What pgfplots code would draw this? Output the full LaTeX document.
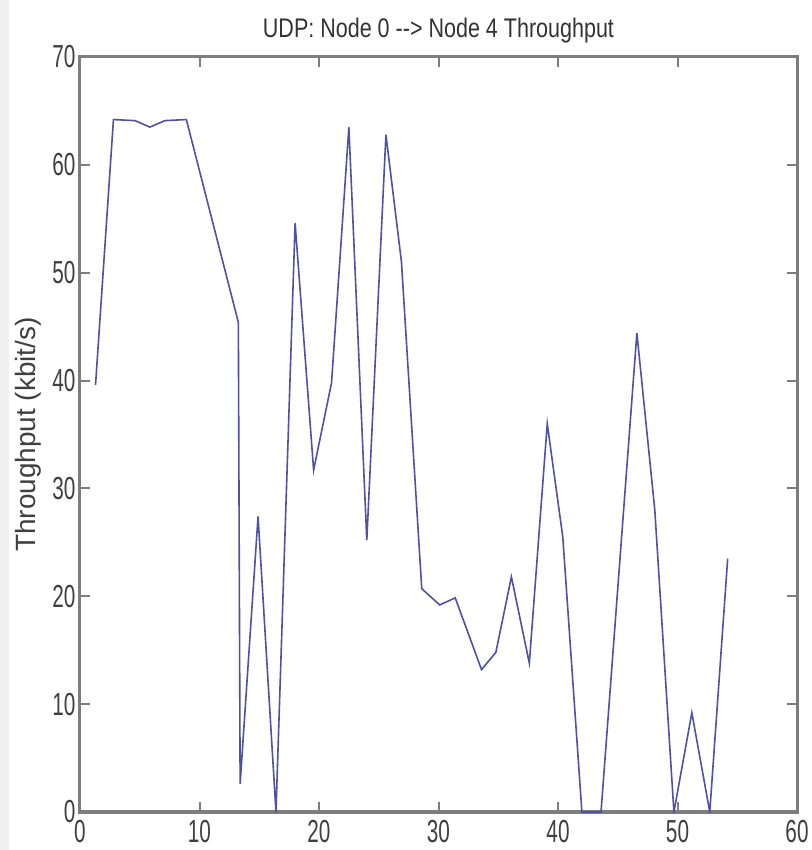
\documentclass[border=0pt]{standalone}
\usepackage{fontspec}
\setmainfont{Liberation Sans}[FakeStretch=0.65]
\newfontfamily\titlefont{Liberation Sans}[FakeStretch=0.8]
\newfontfamily\labelfont{Liberation Sans}
\usepackage{pgfplots}
\pgfplotsset{compat=1.18}
\definecolor{linecol}{RGB}{80,80,165}
\definecolor{axcol}{RGB}{125,125,125}
\begin{document}
\begin{tikzpicture}
\fill[white] (-80bp,-38bp) rectangle (730bp,812bp);
\fill[black!6] (-80bp,-38bp) rectangle (-71bp,812bp);
\begin{axis}[
  at={(0,0)}, anchor=south west,
  scale only axis,
  width=717bp, height=755bp,
  xmin=0, xmax=60, ymin=0, ymax=70,
  xtick={0,10,...,60}, ytick={0,10,...,70},
  tick align=inside,
  major tick length=10bp,
  axis line style={axcol, line width=3bp},
  tick style={axcol, line width=2bp},
  every tick label/.append style={font=\fontsize{32}{32}\selectfont, text=black!75},
  /pgf/number format/assume math mode=true,
  xticklabel style={yshift=-5bp},
  yticklabel style={xshift=-1bp},
  title={\titlefont\fontsize{27}{27}\selectfont UDP: Node 0 --> Node 4 Throughput},
  title style={yshift=4bp, text=black!80},
  ylabel={\labelfont\fontsize{28}{28}\selectfont Throughput (kbit/s)},
  ylabel style={text=black!75, yshift=4bp},
]
\addplot[linecol, line width=1.6bp] coordinates {
(1.3,39.6) (2.8,64.2) (4.6,64.1) (5.85,63.5) (7.1,64.1) (8.9,64.2)
(13.25,45.4) (13.4,2.6) (14.9,27.4) (16.4,0) (18.0,54.6) (19.55,31.7)
(21.05,39.8) (22.5,63.5) (24.0,25.2) (25.6,62.8) (26.9,51) (28.6,20.7)
(30.1,19.2) (31.4,19.85) (33.6,13.2) (34.8,14.8) (36.1,21.8) (37.6,13.8)
(39.1,36.0) (40.4,25.5) (42.0,0) (43.6,0) (46.6,44.4) (48.1,28)
(49.7,0) (51.2,9.2) (52.7,0) (54.2,23.5)
};
\end{axis}
\end{tikzpicture}
\end{document}
